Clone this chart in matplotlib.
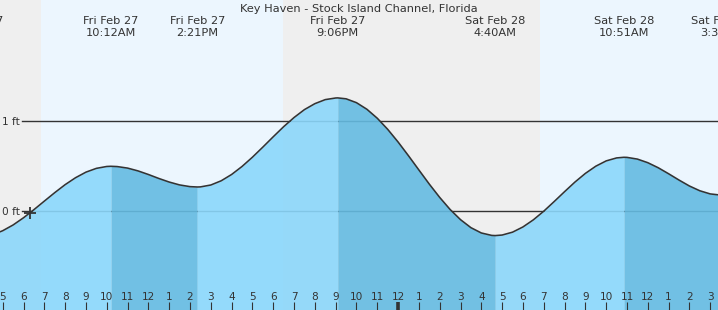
import matplotlib
matplotlib.use("Agg")
import matplotlib.pyplot as plt
import matplotlib.transforms as mtransforms

# ---- data (hours since midnight Fri Feb 27) ----
title = "Key Haven - Stock Island Channel, Florida"

times = [4.5, 5.0, 5.5, 6.0, 6.5, 7.0, 7.5, 8.0, 8.5, 9.0, 9.5, 10.0, 10.2,
         10.5, 11.0, 11.5, 12.0, 12.5, 13.0, 13.5, 14.0, 14.35,
         14.5, 15.0, 15.5, 16.0, 16.5, 17.0, 17.5, 18.0, 18.5, 19.0, 19.5, 20.0, 20.5, 21.0, 21.1,
         21.5, 22.0, 22.5, 23.0, 23.5, 24.0, 24.5, 25.0, 25.5, 26.0, 26.5, 27.0, 27.5, 28.0, 28.5, 28.67,
         29.0, 29.5, 30.0, 30.5, 31.0, 31.5, 32.0, 32.5, 33.0, 33.5, 34.0, 34.5, 34.85,
         35.0, 35.5, 36.0, 36.5, 37.0, 37.5, 38.0, 38.5, 39.0, 39.5, 39.53, 40.0]
heights = [-0.262, -0.216, -0.152, -0.072, 0.018, 0.113, 0.207, 0.296, 0.373, 0.435, 0.477, 0.498, 0.50,
           0.497, 0.480, 0.449, 0.409, 0.365, 0.325, 0.293, 0.274, 0.27,
           0.271, 0.292, 0.339, 0.409, 0.498, 0.601, 0.713, 0.828, 0.940, 1.042, 1.130, 1.196, 1.241, 1.259, 1.26,
           1.250, 1.207, 1.134, 1.034, 0.911, 0.770, 0.617, 0.459, 0.302, 0.154, 0.020, -0.093, -0.182, -0.241, -0.268, -0.27,
           -0.264, -0.232, -0.174, -0.095, 0.001, 0.108, 0.218, 0.325, 0.421, 0.501, 0.560, 0.593, 0.60,
           0.599, 0.580, 0.540, 0.484, 0.417, 0.347, 0.281, 0.228, 0.193, 0.180, 0.18, 0.182]

extreme_times = [3.72, 10.20, 14.35, 21.10, 28.67, 34.85, 39.53]
extreme_dates = ["Fri Feb 27", "Fri Feb 27", "Fri Feb 27", "Fri Feb 27", "Sat Feb 28", "Sat Feb 28", "Sat Feb 28"]
extreme_clock = ["3:43AM", "10:12AM", "2:21PM", "9:06PM", "4:40AM", "10:51AM", "3:32PM"]

night_spans = [(0.0, 6.84), (18.47, 30.80)]
day_spans = [(6.84, 18.47), (30.80, 42.0)]

hour_ticks = list(range(5, 40))
hour_labels = [str((h - 1) % 12 + 1) for h in hour_ticks]
midnight = 24

level_values = [0, 1]
level_labels = ["0 ft", "1 ft"]

now_time = 6.32
now_height = -0.02

# ---- style ----
W, H = 718, 310
TXT = "#333333"
plt.rcParams["font.family"] = ["DejaVu Sans"]

fig = plt.figure(figsize=(W / 100, H / 100), dpi=100)
ax = fig.add_axes([0, 0, 1, 1])
x0, x1 = 4.870, 39.373
y0, y1 = -1.097, 2.348
ax.set_xlim(x0, x1)
ax.set_ylim(y0, y1)
ax.set_axisbelow(False)
for s in ax.spines.values():
    s.set_visible(False)

for a, b in night_spans:
    ax.axvspan(a, b, color="#EFEFEF", zorder=0, lw=0)
for a, b in day_spans:
    ax.axvspan(a, b, color="#ECF6FE", zorder=0, lw=0)

for v in level_values:
    ax.axhline(v, xmin=22 / W, xmax=1, color="#333333", lw=1.0, zorder=1)

# fill segments between extremes (rising light, falling dark)
bounds = [i for i, t in enumerate(times) if t in extreme_times]
bounds = [0] + bounds + [len(times) - 1]
for i0, i1 in zip(bounds[:-1], bounds[1:]):
    if i1 <= i0:
        continue
    seg_t = times[i0:i1 + 1]
    seg_h = heights[i0:i1 + 1]
    rising = seg_h[-1] >= seg_h[0]
    col = "#8BD7FB" if rising else "#64BBE2"
    ax.fill_between(seg_t, seg_h, y0, color=col, alpha=0.9, lw=0, zorder=2)

ax.plot(times, heights, color="#333333", lw=1.15, zorder=3, solid_capstyle="round")
ax.plot([now_time], [now_height], marker="+", ms=9, mew=1.3, color="#333333", zorder=4)

# x ticks
ax.set_xticks(hour_ticks)
ax.set_xticklabels(hour_labels)
ax.tick_params(axis="x", direction="in", length=5.8, width=0.8, color="#333333",
               pad=-13.2, labelsize=7.6, labelcolor=TXT)
for tk, h in zip(ax.xaxis.get_major_ticks(), hour_ticks):
    if h == midnight:
        tk.tick1line.set_markeredgewidth(2.6)
        tk.tick1line.set_color("#222222")

# y labels
ax.set_yticks(level_values)
ax.set_yticklabels(level_labels)
ax.tick_params(axis="y", direction="in", length=0, pad=-14.4, labelsize=7.6, labelcolor=TXT)
for lab in ax.get_yticklabels():
    lab.set_horizontalalignment("right")

# title and extreme labels
ax.text(0.5, 1 - 11.5 / H, title, transform=ax.transAxes, ha="center", va="baseline",
        fontsize=8.2, color=TXT)
blend = mtransforms.blended_transform_factory(ax.transData, ax.transAxes)
for t, d, c in zip(extreme_times, extreme_dates, extreme_clock):
    ax.text(t, 1 - 24.5 / H, d, transform=blend, ha="center", va="baseline", fontsize=8.2, color=TXT)
    ax.text(t, 1 - 36.5 / H, c, transform=blend, ha="center", va="baseline", fontsize=8.2, color=TXT)

fig.savefig("out.png", dpi=100)
